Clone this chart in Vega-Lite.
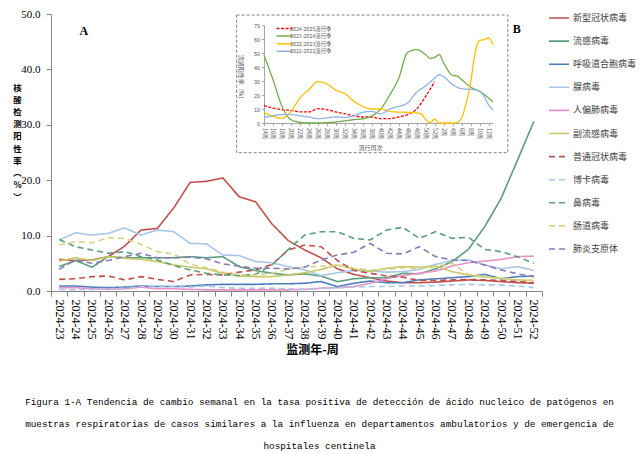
{
"$schema":"https://vega.github.io/schema/vega-lite/v6.json",
"width":491,"height":277,
"autosize":"none",
"padding":{"left":51,"top":14,"right":98,"bottom":163},
"config":{"view":{"stroke":null},"axis":{"grid":false}},
"title":{"text":["Figura 1-A   Tendencia de cambio semanal en la tasa positiva de detección de ácido nucleico de patógenos en","muestras respiratorias de casos similares a la influenza en departamentos ambulatorios y de emergencia de","hospitales centinela"],"orient":"bottom","anchor":"middle","font":"Liberation Mono","fontSize":9.35,"fontWeight":"normal","color":"#000000","lineHeight":22,"offset":43,"dx":23},
"resolve":{"scale":{"x":"independent","y":"independent","color":"independent","strokeDash":"independent"}},
"layer":[
{
"data":{"values":[
{"w":"2024-23","s":"新型冠状病毒","v":5.7},{"w":"2024-24","s":"新型冠状病毒","v":5.5},{"w":"2024-25","s":"新型冠状病毒","v":5.6},{"w":"2024-26","s":"新型冠状病毒","v":6.2},{"w":"2024-27","s":"新型冠状病毒","v":8.1},{"w":"2024-28","s":"新型冠状病毒","v":11.0},{"w":"2024-29","s":"新型冠状病毒","v":11.3},{"w":"2024-30","s":"新型冠状病毒","v":15.0},{"w":"2024-31","s":"新型冠状病毒","v":19.6},{"w":"2024-32","s":"新型冠状病毒","v":19.8},{"w":"2024-33","s":"新型冠状病毒","v":20.4},{"w":"2024-34","s":"新型冠状病毒","v":17.0},{"w":"2024-35","s":"新型冠状病毒","v":16.1},{"w":"2024-36","s":"新型冠状病毒","v":12.1},{"w":"2024-37","s":"新型冠状病毒","v":9.1},{"w":"2024-38","s":"新型冠状病毒","v":7.4},{"w":"2024-39","s":"新型冠状病毒","v":6.0},{"w":"2024-40","s":"新型冠状病毒","v":4.0},{"w":"2024-41","s":"新型冠状病毒","v":3.0},{"w":"2024-42","s":"新型冠状病毒","v":2.4},{"w":"2024-43","s":"新型冠状病毒","v":1.8},{"w":"2024-44","s":"新型冠状病毒","v":1.5},{"w":"2024-45","s":"新型冠状病毒","v":1.5},{"w":"2024-46","s":"新型冠状病毒","v":1.6},{"w":"2024-47","s":"新型冠状病毒","v":1.8},{"w":"2024-48","s":"新型冠状病毒","v":2.0},{"w":"2024-49","s":"新型冠状病毒","v":1.9},{"w":"2024-50","s":"新型冠状病毒","v":1.7},{"w":"2024-51","s":"新型冠状病毒","v":1.5},{"w":"2024-52","s":"新型冠状病毒","v":1.4},
{"w":"2024-23","s":"流感病毒","v":4.4},{"w":"2024-24","s":"流感病毒","v":5.5},{"w":"2024-25","s":"流感病毒","v":4.3},{"w":"2024-26","s":"流感病毒","v":6.2},{"w":"2024-27","s":"流感病毒","v":6.0},{"w":"2024-28","s":"流感病毒","v":6.0},{"w":"2024-29","s":"流感病毒","v":6.0},{"w":"2024-30","s":"流感病毒","v":6.0},{"w":"2024-31","s":"流感病毒","v":6.2},{"w":"2024-32","s":"流感病毒","v":6.0},{"w":"2024-33","s":"流感病毒","v":6.2},{"w":"2024-34","s":"流感病毒","v":4.4},{"w":"2024-35","s":"流感病毒","v":3.7},{"w":"2024-36","s":"流感病毒","v":3.2},{"w":"2024-37","s":"流感病毒","v":2.9},{"w":"2024-38","s":"流感病毒","v":3.1},{"w":"2024-39","s":"流感病毒","v":2.7},{"w":"2024-40","s":"流感病毒","v":1.7},{"w":"2024-41","s":"流感病毒","v":2.2},{"w":"2024-42","s":"流感病毒","v":2.4},{"w":"2024-43","s":"流感病毒","v":2.4},{"w":"2024-44","s":"流感病毒","v":3.2},{"w":"2024-45","s":"流感病毒","v":3.1},{"w":"2024-46","s":"流感病毒","v":4.0},{"w":"2024-47","s":"流感病毒","v":5.3},{"w":"2024-48","s":"流感病毒","v":7.5},{"w":"2024-49","s":"流感病毒","v":11.6},{"w":"2024-50","s":"流感病毒","v":16.7},{"w":"2024-51","s":"流感病毒","v":23.6},{"w":"2024-52","s":"流感病毒","v":30.6},
{"w":"2024-23","s":"呼吸道合胞病毒","v":0.9},{"w":"2024-24","s":"呼吸道合胞病毒","v":0.9},{"w":"2024-25","s":"呼吸道合胞病毒","v":0.7},{"w":"2024-26","s":"呼吸道合胞病毒","v":0.6},{"w":"2024-27","s":"呼吸道合胞病毒","v":0.7},{"w":"2024-28","s":"呼吸道合胞病毒","v":0.9},{"w":"2024-29","s":"呼吸道合胞病毒","v":0.8},{"w":"2024-30","s":"呼吸道合胞病毒","v":0.8},{"w":"2024-31","s":"呼吸道合胞病毒","v":0.9},{"w":"2024-32","s":"呼吸道合胞病毒","v":1.1},{"w":"2024-33","s":"呼吸道合胞病毒","v":1.2},{"w":"2024-34","s":"呼吸道合胞病毒","v":1.2},{"w":"2024-35","s":"呼吸道合胞病毒","v":1.2},{"w":"2024-36","s":"呼吸道合胞病毒","v":1.3},{"w":"2024-37","s":"呼吸道合胞病毒","v":1.3},{"w":"2024-38","s":"呼吸道合胞病毒","v":1.4},{"w":"2024-39","s":"呼吸道合胞病毒","v":1.7},{"w":"2024-40","s":"呼吸道合胞病毒","v":0.8},{"w":"2024-41","s":"呼吸道合胞病毒","v":1.4},{"w":"2024-42","s":"呼吸道合胞病毒","v":1.8},{"w":"2024-43","s":"呼吸道合胞病毒","v":1.5},{"w":"2024-44","s":"呼吸道合胞病毒","v":1.5},{"w":"2024-45","s":"呼吸道合胞病毒","v":2.0},{"w":"2024-46","s":"呼吸道合胞病毒","v":2.2},{"w":"2024-47","s":"呼吸道合胞病毒","v":2.4},{"w":"2024-48","s":"呼吸道合胞病毒","v":2.6},{"w":"2024-49","s":"呼吸道合胞病毒","v":3.0},{"w":"2024-50","s":"呼吸道合胞病毒","v":2.2},{"w":"2024-51","s":"呼吸道合胞病毒","v":2.6},{"w":"2024-52","s":"呼吸道合胞病毒","v":2.7},
{"w":"2024-23","s":"腺病毒","v":9.2},{"w":"2024-24","s":"腺病毒","v":10.5},{"w":"2024-25","s":"腺病毒","v":10.1},{"w":"2024-26","s":"腺病毒","v":10.4},{"w":"2024-27","s":"腺病毒","v":11.4},{"w":"2024-28","s":"腺病毒","v":10.1},{"w":"2024-29","s":"腺病毒","v":11.0},{"w":"2024-30","s":"腺病毒","v":10.7},{"w":"2024-31","s":"腺病毒","v":8.6},{"w":"2024-32","s":"腺病毒","v":8.5},{"w":"2024-33","s":"腺病毒","v":6.5},{"w":"2024-34","s":"腺病毒","v":6.4},{"w":"2024-35","s":"腺病毒","v":5.3},{"w":"2024-36","s":"腺病毒","v":5.1},{"w":"2024-37","s":"腺病毒","v":4.4},{"w":"2024-38","s":"腺病毒","v":3.8},{"w":"2024-39","s":"腺病毒","v":2.8},{"w":"2024-40","s":"腺病毒","v":3.3},{"w":"2024-41","s":"腺病毒","v":3.7},{"w":"2024-42","s":"腺病毒","v":3.6},{"w":"2024-43","s":"腺病毒","v":3.4},{"w":"2024-44","s":"腺病毒","v":3.5},{"w":"2024-45","s":"腺病毒","v":3.9},{"w":"2024-46","s":"腺病毒","v":4.8},{"w":"2024-47","s":"腺病毒","v":5.5},{"w":"2024-48","s":"腺病毒","v":5.6},{"w":"2024-49","s":"腺病毒","v":4.7},{"w":"2024-50","s":"腺病毒","v":4.0},{"w":"2024-51","s":"腺病毒","v":4.4},{"w":"2024-52","s":"腺病毒","v":3.7},
{"w":"2024-23","s":"人偏肺病毒","v":0.6},{"w":"2024-24","s":"人偏肺病毒","v":0.6},{"w":"2024-25","s":"人偏肺病毒","v":0.4},{"w":"2024-26","s":"人偏肺病毒","v":0.3},{"w":"2024-27","s":"人偏肺病毒","v":0.4},{"w":"2024-28","s":"人偏肺病毒","v":0.7},{"w":"2024-29","s":"人偏肺病毒","v":0.4},{"w":"2024-30","s":"人偏肺病毒","v":0.4},{"w":"2024-31","s":"人偏肺病毒","v":0.3},{"w":"2024-32","s":"人偏肺病毒","v":0.2},{"w":"2024-33","s":"人偏肺病毒","v":0.2},{"w":"2024-34","s":"人偏肺病毒","v":0.2},{"w":"2024-35","s":"人偏肺病毒","v":0.2},{"w":"2024-36","s":"人偏肺病毒","v":0.2},{"w":"2024-37","s":"人偏肺病毒","v":0.2},{"w":"2024-38","s":"人偏肺病毒","v":0.3},{"w":"2024-39","s":"人偏肺病毒","v":0.5},{"w":"2024-40","s":"人偏肺病毒","v":0.6},{"w":"2024-41","s":"人偏肺病毒","v":0.8},{"w":"2024-42","s":"人偏肺病毒","v":1.4},{"w":"2024-43","s":"人偏肺病毒","v":2.2},{"w":"2024-44","s":"人偏肺病毒","v":2.8},{"w":"2024-45","s":"人偏肺病毒","v":3.2},{"w":"2024-46","s":"人偏肺病毒","v":3.6},{"w":"2024-47","s":"人偏肺病毒","v":4.5},{"w":"2024-48","s":"人偏肺病毒","v":5.1},{"w":"2024-49","s":"人偏肺病毒","v":5.4},{"w":"2024-50","s":"人偏肺病毒","v":5.7},{"w":"2024-51","s":"人偏肺病毒","v":6.2},{"w":"2024-52","s":"人偏肺病毒","v":6.3},
{"w":"2024-23","s":"副流感病毒","v":5.4},{"w":"2024-24","s":"副流感病毒","v":6.0},{"w":"2024-25","s":"副流感病毒","v":5.5},{"w":"2024-26","s":"副流感病毒","v":6.2},{"w":"2024-27","s":"副流感病毒","v":5.9},{"w":"2024-28","s":"副流感病毒","v":5.7},{"w":"2024-29","s":"副流感病毒","v":5.3},{"w":"2024-30","s":"副流感病毒","v":4.7},{"w":"2024-31","s":"副流感病毒","v":4.3},{"w":"2024-32","s":"副流感病毒","v":4.0},{"w":"2024-33","s":"副流感病毒","v":3.2},{"w":"2024-34","s":"副流感病毒","v":2.7},{"w":"2024-35","s":"副流感病毒","v":2.6},{"w":"2024-36","s":"副流感病毒","v":2.6},{"w":"2024-37","s":"副流感病毒","v":2.9},{"w":"2024-38","s":"副流感病毒","v":3.3},{"w":"2024-39","s":"副流感病毒","v":3.9},{"w":"2024-40","s":"副流感病毒","v":4.7},{"w":"2024-41","s":"副流感病毒","v":4.0},{"w":"2024-42","s":"副流感病毒","v":3.5},{"w":"2024-43","s":"副流感病毒","v":4.1},{"w":"2024-44","s":"副流感病毒","v":4.4},{"w":"2024-45","s":"副流感病毒","v":4.3},{"w":"2024-46","s":"副流感病毒","v":4.5},{"w":"2024-47","s":"副流感病毒","v":3.5},{"w":"2024-48","s":"副流感病毒","v":2.9},{"w":"2024-49","s":"副流感病毒","v":2.5},{"w":"2024-50","s":"副流感病毒","v":2.3},{"w":"2024-51","s":"副流感病毒","v":2.0},{"w":"2024-52","s":"副流感病毒","v":1.9},
{"w":"2024-23","s":"普通冠状病毒","v":2.1},{"w":"2024-24","s":"普通冠状病毒","v":2.2},{"w":"2024-25","s":"普通冠状病毒","v":2.6},{"w":"2024-26","s":"普通冠状病毒","v":2.7},{"w":"2024-27","s":"普通冠状病毒","v":2.0},{"w":"2024-28","s":"普通冠状病毒","v":2.6},{"w":"2024-29","s":"普通冠状病毒","v":2.1},{"w":"2024-30","s":"普通冠状病毒","v":1.7},{"w":"2024-31","s":"普通冠状病毒","v":2.9},{"w":"2024-32","s":"普通冠状病毒","v":3.0},{"w":"2024-33","s":"普通冠状病毒","v":2.9},{"w":"2024-34","s":"普通冠状病毒","v":3.4},{"w":"2024-35","s":"普通冠状病毒","v":3.8},{"w":"2024-36","s":"普通冠状病毒","v":4.8},{"w":"2024-37","s":"普通冠状病毒","v":7.4},{"w":"2024-38","s":"普通冠状病毒","v":8.3},{"w":"2024-39","s":"普通冠状病毒","v":8.0},{"w":"2024-40","s":"普通冠状病毒","v":5.5},{"w":"2024-41","s":"普通冠状病毒","v":3.7},{"w":"2024-42","s":"普通冠状病毒","v":3.2},{"w":"2024-43","s":"普通冠状病毒","v":2.7},{"w":"2024-44","s":"普通冠状病毒","v":2.5},{"w":"2024-45","s":"普通冠状病毒","v":1.9},{"w":"2024-46","s":"普通冠状病毒","v":1.9},{"w":"2024-47","s":"普通冠状病毒","v":2.0},{"w":"2024-48","s":"普通冠状病毒","v":2.1},{"w":"2024-49","s":"普通冠状病毒","v":2.0},{"w":"2024-50","s":"普通冠状病毒","v":1.9},{"w":"2024-51","s":"普通冠状病毒","v":1.7},{"w":"2024-52","s":"普通冠状病毒","v":1.5},
{"w":"2024-23","s":"博卡病毒","v":0.3},{"w":"2024-24","s":"博卡病毒","v":0.2},{"w":"2024-25","s":"博卡病毒","v":0.3},{"w":"2024-26","s":"博卡病毒","v":0.4},{"w":"2024-27","s":"博卡病毒","v":0.5},{"w":"2024-28","s":"博卡病毒","v":0.8},{"w":"2024-29","s":"博卡病毒","v":0.9},{"w":"2024-30","s":"博卡病毒","v":0.8},{"w":"2024-31","s":"博卡病毒","v":0.7},{"w":"2024-32","s":"博卡病毒","v":0.9},{"w":"2024-33","s":"博卡病毒","v":0.6},{"w":"2024-34","s":"博卡病毒","v":0.5},{"w":"2024-35","s":"博卡病毒","v":0.5},{"w":"2024-36","s":"博卡病毒","v":0.5},{"w":"2024-37","s":"博卡病毒","v":0.4},{"w":"2024-38","s":"博卡病毒","v":0.3},{"w":"2024-39","s":"博卡病毒","v":0.5},{"w":"2024-40","s":"博卡病毒","v":0.6},{"w":"2024-41","s":"博卡病毒","v":0.7},{"w":"2024-42","s":"博卡病毒","v":0.8},{"w":"2024-43","s":"博卡病毒","v":0.8},{"w":"2024-44","s":"博卡病毒","v":0.9},{"w":"2024-45","s":"博卡病毒","v":0.9},{"w":"2024-46","s":"博卡病毒","v":1.0},{"w":"2024-47","s":"博卡病毒","v":1.1},{"w":"2024-48","s":"博卡病毒","v":1.2},{"w":"2024-49","s":"博卡病毒","v":1.1},{"w":"2024-50","s":"博卡病毒","v":1.1},{"w":"2024-51","s":"博卡病毒","v":0.9},{"w":"2024-52","s":"博卡病毒","v":0.6},
{"w":"2024-23","s":"鼻病毒","v":9.3},{"w":"2024-24","s":"鼻病毒","v":8.0},{"w":"2024-25","s":"鼻病毒","v":7.4},{"w":"2024-26","s":"鼻病毒","v":6.8},{"w":"2024-27","s":"鼻病毒","v":7.1},{"w":"2024-28","s":"鼻病毒","v":6.2},{"w":"2024-29","s":"鼻病毒","v":5.6},{"w":"2024-30","s":"鼻病毒","v":4.6},{"w":"2024-31","s":"鼻病毒","v":3.8},{"w":"2024-32","s":"鼻病毒","v":3.2},{"w":"2024-33","s":"鼻病毒","v":2.9},{"w":"2024-34","s":"鼻病毒","v":2.8},{"w":"2024-35","s":"鼻病毒","v":3.0},{"w":"2024-36","s":"鼻病毒","v":4.7},{"w":"2024-37","s":"鼻病毒","v":7.5},{"w":"2024-38","s":"鼻病毒","v":10.1},{"w":"2024-39","s":"鼻病毒","v":10.7},{"w":"2024-40","s":"鼻病毒","v":10.7},{"w":"2024-41","s":"鼻病毒","v":9.5},{"w":"2024-42","s":"鼻病毒","v":9.2},{"w":"2024-43","s":"鼻病毒","v":11.0},{"w":"2024-44","s":"鼻病毒","v":11.5},{"w":"2024-45","s":"鼻病毒","v":9.5},{"w":"2024-46","s":"鼻病毒","v":10.7},{"w":"2024-47","s":"鼻病毒","v":9.5},{"w":"2024-48","s":"鼻病毒","v":9.7},{"w":"2024-49","s":"鼻病毒","v":7.5},{"w":"2024-50","s":"鼻病毒","v":7.1},{"w":"2024-51","s":"鼻病毒","v":6.2},{"w":"2024-52","s":"鼻病毒","v":5.0},
{"w":"2024-23","s":"肠道病毒","v":8.3},{"w":"2024-24","s":"肠道病毒","v":8.9},{"w":"2024-25","s":"肠道病毒","v":8.7},{"w":"2024-26","s":"肠道病毒","v":9.6},{"w":"2024-27","s":"肠道病毒","v":9.5},{"w":"2024-28","s":"肠道病毒","v":8.4},{"w":"2024-29","s":"肠道病毒","v":7.1},{"w":"2024-30","s":"肠道病毒","v":6.7},{"w":"2024-31","s":"肠道病毒","v":4.8},{"w":"2024-32","s":"肠道病毒","v":4.2},{"w":"2024-33","s":"肠道病毒","v":3.4},{"w":"2024-34","s":"肠道病毒","v":2.9},{"w":"2024-35","s":"肠道病毒","v":2.9},{"w":"2024-36","s":"肠道病毒","v":3.2},{"w":"2024-37","s":"肠道病毒","v":3.9},{"w":"2024-38","s":"肠道病毒","v":4.3},{"w":"2024-39","s":"肠道病毒","v":4.5},{"w":"2024-40","s":"肠道病毒","v":4.7},{"w":"2024-41","s":"肠道病毒","v":4.1},{"w":"2024-42","s":"肠道病毒","v":3.8},{"w":"2024-43","s":"肠道病毒","v":3.9},{"w":"2024-44","s":"肠道病毒","v":4.2},{"w":"2024-45","s":"肠道病毒","v":4.1},{"w":"2024-46","s":"肠道病毒","v":4.4},{"w":"2024-47","s":"肠道病毒","v":5.0},{"w":"2024-48","s":"肠道病毒","v":3.0},{"w":"2024-49","s":"肠道病毒","v":2.6},{"w":"2024-50","s":"肠道病毒","v":2.3},{"w":"2024-51","s":"肠道病毒","v":2.0},{"w":"2024-52","s":"肠道病毒","v":1.9},
{"w":"2024-23","s":"肺炎支原体","v":3.9},{"w":"2024-24","s":"肺炎支原体","v":5.6},{"w":"2024-25","s":"肺炎支原体","v":5.0},{"w":"2024-26","s":"肺炎支原体","v":5.5},{"w":"2024-27","s":"肺炎支原体","v":6.2},{"w":"2024-28","s":"肺炎支原体","v":6.8},{"w":"2024-29","s":"肺炎支原体","v":6.0},{"w":"2024-30","s":"肺炎支原体","v":6.0},{"w":"2024-31","s":"肺炎支原体","v":6.1},{"w":"2024-32","s":"肺炎支原体","v":5.8},{"w":"2024-33","s":"肺炎支原体","v":4.9},{"w":"2024-34","s":"肺炎支原体","v":4.5},{"w":"2024-35","s":"肺炎支原体","v":4.1},{"w":"2024-36","s":"肺炎支原体","v":4.1},{"w":"2024-37","s":"肺炎支原体","v":4.0},{"w":"2024-38","s":"肺炎支原体","v":4.3},{"w":"2024-39","s":"肺炎支原体","v":5.6},{"w":"2024-40","s":"肺炎支原体","v":6.5},{"w":"2024-41","s":"肺炎支原体","v":7.0},{"w":"2024-42","s":"肺炎支原体","v":8.6},{"w":"2024-43","s":"肺炎支原体","v":6.8},{"w":"2024-44","s":"肺炎支原体","v":6.7},{"w":"2024-45","s":"肺炎支原体","v":8.0},{"w":"2024-46","s":"肺炎支原体","v":6.2},{"w":"2024-47","s":"肺炎支原体","v":5.6},{"w":"2024-48","s":"肺炎支原体","v":5.5},{"w":"2024-49","s":"肺炎支原体","v":4.7},{"w":"2024-50","s":"肺炎支原体","v":3.8},{"w":"2024-51","s":"肺炎支原体","v":3.1},{"w":"2024-52","s":"肺炎支原体","v":2.6}
]},
"mark":{"type":"line","strokeWidth":1.6},
"encoding":{
"x":{"field":"w","type":"ordinal","bandPosition":0.5,"scale":{"type":"band","paddingInner":0,"paddingOuter":0},
"axis":{"labelAngle":90,"labelAlign":"left","labelBaseline":"middle","labelFont":"Liberation Serif","labelFontSize":12,"labelColor":"#000000","tickBand":"extent","domainColor":"#868686","tickColor":"#868686","tickSize":5,"labelPadding":3,"title":"监测年-周","titleFont":"Noto Sans CJK SC","titleFontSize":12,"titleFontWeight":"bold","titleColor":"#000000","titleX":261,"titleY":58,"titleBaseline":"middle","titleAlign":"center"}},
"y":{"field":"v","type":"quantitative","scale":{"domain":[0,50],"nice":false},
"axis":{"values":[0,10,20,30,40,50],"format":".1f","labelFont":"Liberation Serif","labelFontSize":11,"labelColor":"#000000","domainColor":"#868686","tickColor":"#868686","tickSize":5,"labelPadding":6,"title":["核","酸","检","测","阳","性","率","︵","%","︶"],"titleAngle":0,"titleFont":"Noto Sans CJK SC","titleFontSize":8.4,"titleFontWeight":"bold","titleColor":"#000000","titleLineHeight":12.2,"titleX":-34,"titleY":69,"titleBaseline":"top","titleAlign":"center"}},
"color":{"field":"s","type":"nominal","scale":{"domain":["新型冠状病毒","流感病毒","呼吸道合胞病毒","腺病毒","人偏肺病毒","副流感病毒","普通冠状病毒","博卡病毒","鼻病毒","肠道病毒","肺炎支原体"],"range":["#c0504d","#5a9e7c","#4f7fbd","#a7c6e8","#e891c7","#c9c96a","#c0504d","#a7c6e8","#5a9e7c","#d6d27e","#8a78b8"]},
"legend":{"title":null,"orient":"none","legendX":497,"legendY":-7,"symbolType":"stroke","symbolSize":400,"symbolStrokeWidth":1.6,"labelFont":"Noto Sans CJK SC","labelFontSize":9,"labelColor":"#404040","rowPadding":7.1,"labelOffset":3}},
"strokeDash":{"field":"s","type":"nominal","scale":{"domain":["新型冠状病毒","流感病毒","呼吸道合胞病毒","腺病毒","人偏肺病毒","副流感病毒","普通冠状病毒","博卡病毒","鼻病毒","肠道病毒","肺炎支原体"],"range":[[1,0],[1,0],[1,0],[1,0],[1,0],[1,0],[6,4],[6,4],[6,4],[6,4],[6,4]]},
"legend":{"title":null,"orient":"none","legendX":497,"legendY":-7,"symbolType":"stroke","symbolSize":400,"symbolStrokeWidth":1.6,"labelFont":"Noto Sans CJK SC","labelFontSize":9,"labelColor":"#404040","rowPadding":7.1,"labelOffset":3}}
}
},
{
"data":{"values":[{"x1":-6.1,"x2":54.3,"y1":-21.2,"y2":77.1}]},
"mark":{"type":"rect","fill":null,"fillOpacity":0,"stroke":"#7f7f7f","strokeWidth":1,"strokeDash":[3,2]},
"encoding":{
"x":{"field":"x1","type":"quantitative","scale":{"domain":[0,51],"range":[213,442],"nice":false,"zero":false},"axis":null},
"x2":{"field":"x2"},
"y":{"field":"y1","type":"quantitative","scale":{"domain":[0,70],"range":[109,11],"nice":false},"axis":null},
"y2":{"field":"y2"}
}
},
{
"data":{"values":[{"i":-40.1,"v":65.7,"t":"A"},{"i":56.3,"v":67,"t":"B"}]},
"mark":{"type":"text","font":"Liberation Serif","fontWeight":"bold","fontSize":12,"color":"#000000","align":"center","baseline":"middle"},
"encoding":{
"x":{"field":"i","type":"quantitative","scale":{"domain":[0,51],"range":[213,442],"nice":false,"zero":false},"axis":null},
"y":{"field":"v","type":"quantitative","scale":{"domain":[0,70],"range":[109,11],"nice":false},"axis":null},
"text":{"field":"t"}
}
},
{
"data":{"values":[
{"i":0,"s":"2024-2025流行季","v":12.4},{"i":2,"s":"2024-2025流行季","v":10.7},{"i":4,"s":"2024-2025流行季","v":9.5},{"i":6,"s":"2024-2025流行季","v":9.0},{"i":8,"s":"2024-2025流行季","v":7.9},{"i":10,"s":"2024-2025流行季","v":7.9},{"i":12,"s":"2024-2025流行季","v":10.2},{"i":14,"s":"2024-2025流行季","v":9.5},{"i":16,"s":"2024-2025流行季","v":7.9},{"i":18,"s":"2024-2025流行季","v":6.7},{"i":20,"s":"2024-2025流行季","v":5.2},{"i":22,"s":"2024-2025流行季","v":4.3},{"i":24,"s":"2024-2025流行季","v":4.3},{"i":26,"s":"2024-2025流行季","v":3.1},{"i":28,"s":"2024-2025流行季","v":3.1},{"i":30,"s":"2024-2025流行季","v":4.3},{"i":32,"s":"2024-2025流行季","v":6.0},{"i":34,"s":"2024-2025流行季","v":10.0},{"i":36,"s":"2024-2025流行季","v":19.0},{"i":38,"s":"2024-2025流行季","v":29.5},
{"i":0,"s":"2023-2024流行季","v":48.3},{"i":2,"s":"2023-2024流行季","v":31.0},{"i":4,"s":"2023-2024流行季","v":12.0},{"i":6,"s":"2023-2024流行季","v":2.4},{"i":8,"s":"2023-2024流行季","v":0.5},{"i":10,"s":"2023-2024流行季","v":0},{"i":12,"s":"2023-2024流行季","v":0},{"i":14,"s":"2023-2024流行季","v":0.3},{"i":16,"s":"2023-2024流行季","v":0.7},{"i":18,"s":"2023-2024流行季","v":1.5},{"i":20,"s":"2023-2024流行季","v":2.4},{"i":22,"s":"2023-2024流行季","v":3.0},{"i":24,"s":"2023-2024流行季","v":5.0},{"i":26,"s":"2023-2024流行季","v":10.0},{"i":28,"s":"2023-2024流行季","v":20.0},{"i":30,"s":"2023-2024流行季","v":32.0},{"i":32,"s":"2023-2024流行季","v":50.5},{"i":34,"s":"2023-2024流行季","v":52.4},{"i":36,"s":"2023-2024流行季","v":48.8},{"i":37,"s":"2023-2024流行季","v":46.2},{"i":38,"s":"2023-2024流行季","v":46.8},{"i":39,"s":"2023-2024流行季","v":48.8},{"i":40,"s":"2023-2024流行季","v":43.0},{"i":42,"s":"2023-2024流行季","v":34.0},{"i":43,"s":"2023-2024流行季","v":33.5},{"i":44,"s":"2023-2024流行季","v":31.0},{"i":46,"s":"2023-2024流行季","v":25.7},{"i":48,"s":"2023-2024流行季","v":22.6},{"i":50,"s":"2023-2024流行季","v":17.9},{"i":51,"s":"2023-2024流行季","v":15.0},
{"i":0,"s":"2022-2023流行季","v":7.6},{"i":2,"s":"2022-2023流行季","v":4.8},{"i":4,"s":"2022-2023流行季","v":3.4},{"i":6,"s":"2022-2023流行季","v":8.3},{"i":8,"s":"2022-2023流行季","v":17.9},{"i":10,"s":"2022-2023流行季","v":23.8},{"i":12,"s":"2022-2023流行季","v":29.5},{"i":14,"s":"2022-2023流行季","v":28.0},{"i":16,"s":"2022-2023流行季","v":23.5},{"i":18,"s":"2022-2023流行季","v":21.0},{"i":20,"s":"2022-2023流行季","v":15.5},{"i":22,"s":"2022-2023流行季","v":11.9},{"i":24,"s":"2022-2023流行季","v":10.0},{"i":26,"s":"2022-2023流行季","v":10.0},{"i":28,"s":"2022-2023流行季","v":8.3},{"i":30,"s":"2022-2023流行季","v":7.8},{"i":32,"s":"2022-2023流行季","v":7.6},{"i":34,"s":"2022-2023流行季","v":7.1},{"i":35,"s":"2022-2023流行季","v":6.5},{"i":36,"s":"2022-2023流行季","v":2.5},{"i":37,"s":"2022-2023流行季","v":0.2},{"i":38,"s":"2022-2023流行季","v":2.8},{"i":39,"s":"2022-2023流行季","v":0},{"i":40,"s":"2022-2023流行季","v":0},{"i":42,"s":"2022-2023流行季","v":0},{"i":43,"s":"2022-2023流行季","v":0.5},{"i":44,"s":"2022-2023流行季","v":3.5},{"i":45,"s":"2022-2023流行季","v":14.0},{"i":46,"s":"2022-2023流行季","v":28.6},{"i":47,"s":"2022-2023流行季","v":50.0},{"i":48,"s":"2022-2023流行季","v":59.0},{"i":49,"s":"2022-2023流行季","v":59.5},{"i":50,"s":"2022-2023流行季","v":60.7},{"i":51,"s":"2022-2023流行季","v":56.0},
{"i":0,"s":"2021-2022流行季","v":4.0},{"i":2,"s":"2021-2022流行季","v":5.2},{"i":4,"s":"2021-2022流行季","v":6.0},{"i":6,"s":"2021-2022流行季","v":6.0},{"i":8,"s":"2021-2022流行季","v":5.2},{"i":10,"s":"2021-2022流行季","v":4.3},{"i":12,"s":"2021-2022流行季","v":3.1},{"i":14,"s":"2021-2022流行季","v":3.6},{"i":16,"s":"2021-2022流行季","v":4.3},{"i":18,"s":"2021-2022流行季","v":4.0},{"i":20,"s":"2021-2022流行季","v":5.2},{"i":22,"s":"2021-2022流行季","v":7.6},{"i":24,"s":"2021-2022流行季","v":8.3},{"i":26,"s":"2021-2022流行季","v":6.5},{"i":28,"s":"2021-2022流行季","v":10.0},{"i":30,"s":"2021-2022流行季","v":11.9},{"i":32,"s":"2021-2022流行季","v":14.3},{"i":34,"s":"2021-2022流行季","v":22.0},{"i":36,"s":"2021-2022流行季","v":26.5},{"i":38,"s":"2021-2022流行季","v":32.0},{"i":39,"s":"2021-2022流行季","v":34.5},{"i":40,"s":"2021-2022流行季","v":33.0},{"i":42,"s":"2021-2022流行季","v":27.4},{"i":44,"s":"2021-2022流行季","v":24.5},{"i":46,"s":"2021-2022流行季","v":24.0},{"i":48,"s":"2021-2022流行季","v":23.0},{"i":49,"s":"2021-2022流行季","v":19.0},{"i":50,"s":"2021-2022流行季","v":13.0},{"i":51,"s":"2021-2022流行季","v":9.5}
]},
"mark":{"type":"line","strokeWidth":1.3,"interpolate":"monotone"},
"encoding":{
"x":{"field":"i","type":"quantitative","scale":{"domain":[0,51],"range":[213,442],"nice":false,"zero":false},
"axis":{"orient":"bottom","offset":-168,"values":[0,2,4,6,8,10,12,14,16,18,20,22,24,26,28,30,32,34,36,38,40,42,44,46,48,50],"labelExpr":"(((datum.value+13)%52)+1)+'周'","labelAngle":90,"labelAlign":"left","labelBaseline":"middle","labelFont":"Noto Sans CJK SC","labelFontSize":5.5,"labelColor":"#595959","labelPadding":2,"tickSize":2.5,"domainColor":"#a6a6a6","tickColor":"#a6a6a6","labelOverlap":false,"title":"流行周次","titleFont":"Noto Sans CJK SC","titleFontSize":6,"titleFontWeight":"normal","titleColor":"#595959","titleX":319,"titleY":24,"titleBaseline":"middle","titleAlign":"center"}},
"y":{"field":"v","type":"quantitative","scale":{"domain":[0,70],"range":[109,11],"nice":false},
"axis":{"orient":"left","offset":-213,"values":[0,10,20,30,40,50,60,70],"labelFont":"Liberation Sans","labelFontSize":5.5,"labelColor":"#595959","labelPadding":2,"tickSize":2.5,"domainColor":"#a6a6a6","tickColor":"#a6a6a6","title":"流感阳性率（%）","titleFont":"Noto Sans CJK SC","titleFontSize":6,"titleFontWeight":"normal","titleColor":"#595959","titleAngle":90,"titleX":-24,"titleY":64,"titleBaseline":"middle","titleAlign":"center"}},
"color":{"field":"s","type":"nominal","scale":{"domain":["2024-2025流行季","2023-2024流行季","2022-2023流行季","2021-2022流行季"],"range":["#ff0000","#70ad47","#ffc000","#8eb4e3"]},
"legend":{"title":null,"orient":"none","legendX":230,"legendY":11,"symbolType":"M-3,0L3,0","symbolSize":28,"symbolStrokeWidth":1.5,"labelFont":"Noto Sans CJK SC","labelFontSize":5.3,"labelColor":"#595959","rowPadding":0.6,"labelOffset":2}},
"strokeDash":{"field":"s","type":"nominal","scale":{"domain":["2024-2025流行季","2023-2024流行季","2022-2023流行季","2021-2022流行季"],"range":[[3,1.5],[1,0],[1,0],[1,0]]},
"legend":{"title":null,"orient":"none","legendX":230,"legendY":11,"symbolType":"M-3,0L3,0","symbolSize":28,"symbolStrokeWidth":1.5,"labelFont":"Noto Sans CJK SC","labelFontSize":5.3,"labelColor":"#595959","rowPadding":0.6,"labelOffset":2}}
}
}
]
}
